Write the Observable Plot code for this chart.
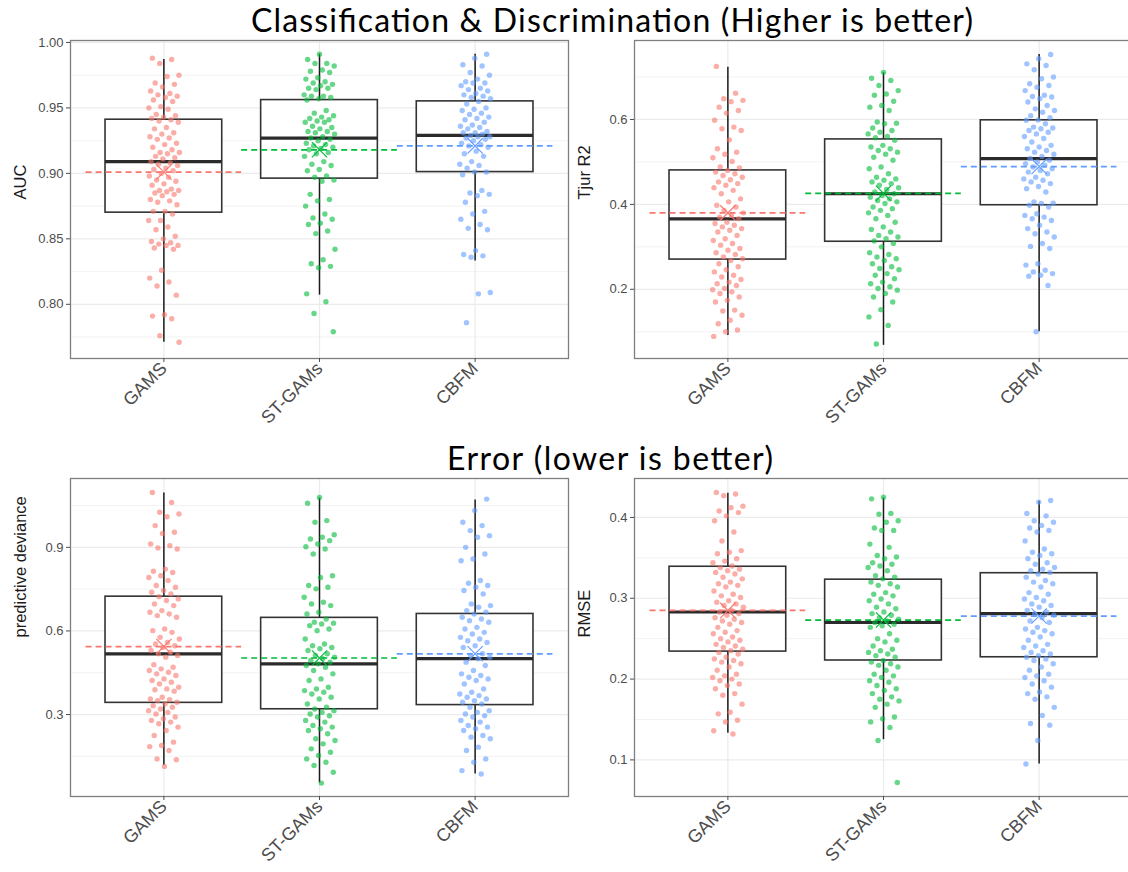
<!DOCTYPE html>
<html><head><meta charset="utf-8">
<script src="https://cdn.jsdelivr.net/npm/d3@7"></script>
<script src="https://cdn.jsdelivr.net/npm/@observablehq/plot@0.6"></script>
<style>
body{margin:0;background:#fff;width:1128px;height:872px;overflow:hidden;position:relative;font-family:"Liberation Sans",Arial,sans-serif;}
.panel{position:absolute;}
#titles{position:absolute;left:0;top:0;}
</style></head><body>
<div id="root"></div>
<script>
const models = ["GAMS", "ST-GAMs", "CBFM"];
const colors = ["#F8766D", "#00BA38", "#619CFF"];

// ---- AUC ----
const aucGAMS = [0.988,0.987,0.984,0.975,0.974,0.969,0.968,0.966,0.963,0.961,0.960,0.959,0.958,0.956,0.955,0.951,0.950,0.949,0.945,0.944,0.943,0.942,0.941,0.940,0.939,0.935,0.934,0.931,0.930,0.928,0.927,0.926,0.923,0.922,0.920,0.918,0.916,0.916,0.915,0.913,0.912,0.911,0.909,0.908,0.907,0.906,0.904,0.903,0.902,0.900,0.898,0.897,0.895,0.894,0.892,0.891,0.888,0.887,0.887,0.886,0.885,0.884,0.883,0.880,0.879,0.878,0.876,0.871,0.871,0.869,0.864,0.864,0.859,0.857,0.852,0.850,0.848,0.847,0.846,0.845,0.845,0.843,0.842,0.826,0.820,0.817,0.814,0.807,0.792,0.791,0.789,0.776,0.771];
const aucSTGAMs = [0.991,0.987,0.984,0.984,0.982,0.979,0.978,0.977,0.973,0.972,0.970,0.969,0.968,0.967,0.965,0.965,0.964,0.960,0.959,0.959,0.958,0.957,0.956,0.948,0.946,0.944,0.943,0.942,0.941,0.940,0.939,0.939,0.936,0.935,0.934,0.932,0.932,0.931,0.930,0.928,0.927,0.926,0.925,0.923,0.922,0.921,0.920,0.919,0.918,0.916,0.915,0.913,0.909,0.907,0.906,0.903,0.902,0.898,0.897,0.895,0.894,0.884,0.880,0.879,0.875,0.869,0.866,0.865,0.862,0.861,0.856,0.854,0.842,0.834,0.831,0.829,0.828,0.808,0.802,0.793,0.779];
const aucCBFM = [0.991,0.988,0.983,0.982,0.977,0.975,0.972,0.970,0.969,0.969,0.967,0.965,0.964,0.963,0.961,0.960,0.959,0.958,0.957,0.955,0.953,0.950,0.949,0.948,0.946,0.945,0.943,0.942,0.941,0.939,0.937,0.936,0.935,0.934,0.932,0.931,0.931,0.930,0.929,0.928,0.928,0.927,0.926,0.925,0.923,0.922,0.921,0.920,0.917,0.915,0.913,0.909,0.907,0.906,0.904,0.901,0.901,0.899,0.887,0.885,0.884,0.883,0.878,0.871,0.869,0.865,0.861,0.858,0.857,0.841,0.838,0.837,0.836,0.809,0.808,0.786];
const aucQ1 = [0.870, 0.896, 0.901];
const aucMedian = [0.909, 0.927, 0.929];
const aucQ3 = [0.941, 0.956, 0.955];
const aucLow = [0.771, 0.807, 0.833];
const aucHigh = [0.987, 0.991, 0.991];
const aucMean = [0.901, 0.918, 0.921];
const aucTicks = [0.80, 0.85, 0.90, 0.95, 1.00];
const aucMinor = [0.775, 0.825, 0.875, 0.925, 0.975];

// ---- Tjur R2 ----
const tjurGAMS = [0.725,0.662,0.649,0.645,0.642,0.629,0.621,0.615,0.598,0.582,0.578,0.574,0.552,0.531,0.523,0.518,0.510,0.501,0.488,0.486,0.480,0.476,0.472,0.468,0.464,0.458,0.453,0.449,0.445,0.439,0.433,0.425,0.413,0.406,0.398,0.394,0.386,0.380,0.374,0.370,0.366,0.358,0.355,0.351,0.347,0.343,0.339,0.335,0.327,0.319,0.315,0.308,0.304,0.296,0.292,0.286,0.282,0.276,0.272,0.268,0.260,0.253,0.246,0.241,0.233,0.229,0.223,0.217,0.213,0.209,0.202,0.199,0.194,0.190,0.182,0.174,0.170,0.151,0.149,0.139,0.127,0.119,0.104,0.100,0.089];
const tjurSTGAMs = [0.711,0.697,0.692,0.680,0.668,0.660,0.657,0.643,0.633,0.629,0.621,0.594,0.591,0.590,0.580,0.574,0.570,0.566,0.560,0.557,0.551,0.539,0.535,0.531,0.527,0.523,0.518,0.511,0.504,0.488,0.484,0.472,0.464,0.460,0.457,0.453,0.449,0.445,0.439,0.435,0.429,0.425,0.421,0.417,0.413,0.409,0.406,0.402,0.394,0.390,0.386,0.380,0.374,0.366,0.358,0.347,0.341,0.335,0.327,0.323,0.319,0.314,0.308,0.300,0.286,0.282,0.276,0.272,0.268,0.260,0.253,0.249,0.246,0.237,0.233,0.225,0.217,0.213,0.206,0.202,0.198,0.190,0.182,0.170,0.152,0.135,0.115,0.071];
const tjurCBFM = [0.753,0.743,0.731,0.727,0.717,0.700,0.696,0.684,0.680,0.676,0.668,0.657,0.654,0.653,0.649,0.641,0.633,0.625,0.621,0.617,0.609,0.604,0.599,0.598,0.590,0.582,0.580,0.578,0.574,0.570,0.566,0.560,0.555,0.547,0.539,0.535,0.531,0.527,0.523,0.518,0.513,0.508,0.504,0.500,0.496,0.492,0.488,0.484,0.480,0.476,0.472,0.464,0.460,0.457,0.453,0.449,0.442,0.437,0.429,0.406,0.403,0.402,0.398,0.394,0.378,0.374,0.370,0.366,0.362,0.351,0.343,0.335,0.331,0.323,0.308,0.301,0.296,0.260,0.257,0.245,0.241,0.237,0.233,0.231,0.209,0.100];
const tjurQ1 = [0.270, 0.312, 0.398];
const tjurMedian = [0.366, 0.425, 0.508];
const tjurQ3 = [0.480, 0.553, 0.598];
const tjurLow = [0.091, 0.068, 0.100];
const tjurHigh = [0.723, 0.710, 0.753];
const tjurMean = [0.380, 0.426, 0.489];
const tjurTicks = [0.2, 0.4, 0.6];
const tjurMinor = [0.1, 0.3, 0.5, 0.7];

// ---- predictive deviance ----
const devGAMS = [1.097,1.061,1.026,1.020,1.010,0.978,0.954,0.950,0.912,0.906,0.898,0.894,0.822,0.814,0.810,0.798,0.792,0.781,0.763,0.757,0.745,0.739,0.733,0.723,0.715,0.709,0.697,0.691,0.673,0.667,0.661,0.655,0.649,0.607,0.601,0.595,0.577,0.571,0.559,0.553,0.547,0.541,0.530,0.524,0.518,0.512,0.506,0.479,0.470,0.464,0.458,0.452,0.446,0.440,0.428,0.422,0.416,0.410,0.398,0.392,0.389,0.384,0.362,0.356,0.353,0.350,0.344,0.338,0.332,0.326,0.320,0.314,0.308,0.302,0.291,0.285,0.279,0.273,0.267,0.255,0.243,0.225,0.201,0.189,0.185,0.171,0.141,0.138,0.114];
const devSTGAMs = [1.079,1.058,0.996,0.990,0.945,0.936,0.930,0.924,0.912,0.902,0.894,0.876,0.798,0.792,0.763,0.757,0.751,0.721,0.703,0.697,0.691,0.667,0.661,0.643,0.631,0.628,0.625,0.619,0.607,0.601,0.571,0.553,0.547,0.541,0.536,0.530,0.518,0.512,0.506,0.500,0.494,0.488,0.482,0.476,0.470,0.458,0.446,0.428,0.422,0.398,0.392,0.386,0.380,0.374,0.362,0.356,0.338,0.326,0.320,0.314,0.308,0.302,0.296,0.291,0.279,0.273,0.261,0.255,0.249,0.243,0.231,0.213,0.207,0.195,0.177,0.165,0.153,0.141,0.129,0.117,0.093,0.054];
const devCBFM = [1.073,1.032,0.990,0.978,0.960,0.942,0.936,0.900,0.876,0.858,0.852,0.781,0.771,0.763,0.757,0.745,0.733,0.697,0.691,0.685,0.673,0.667,0.661,0.649,0.643,0.637,0.631,0.613,0.607,0.595,0.589,0.577,0.571,0.565,0.559,0.547,0.541,0.518,0.512,0.506,0.500,0.488,0.476,0.458,0.446,0.440,0.434,0.428,0.422,0.410,0.392,0.380,0.374,0.368,0.362,0.356,0.350,0.344,0.338,0.326,0.314,0.308,0.302,0.296,0.291,0.279,0.273,0.261,0.255,0.249,0.243,0.225,0.219,0.213,0.183,0.171,0.141,0.129,0.099,0.087];
const devQ1 = [0.342, 0.319, 0.334];
const devMedian = [0.518, 0.482, 0.501];
const devQ3 = [0.723, 0.647, 0.661];
const devLow = [0.117, 0.055, 0.087];
const devHigh = [1.095, 1.076, 1.070];
const devMean = [0.544, 0.503, 0.518];
const devTicks = [0.3, 0.6, 0.9];
const devMinor = [0.15, 0.45, 0.75, 1.05];

// ---- RMSE ----
const rmseGAMS = [0.431,0.429,0.427,0.414,0.412,0.408,0.406,0.402,0.396,0.382,0.371,0.359,0.357,0.355,0.349,0.346,0.344,0.340,0.338,0.336,0.334,0.332,0.330,0.326,0.324,0.320,0.318,0.316,0.314,0.309,0.305,0.303,0.301,0.297,0.295,0.293,0.291,0.289,0.285,0.283,0.281,0.279,0.276,0.274,0.272,0.270,0.268,0.264,0.260,0.258,0.256,0.252,0.250,0.248,0.246,0.243,0.241,0.239,0.237,0.235,0.233,0.231,0.227,0.225,0.223,0.221,0.219,0.215,0.211,0.206,0.204,0.202,0.200,0.198,0.194,0.192,0.188,0.182,0.180,0.169,0.159,0.157,0.149,0.147,0.136,0.132];
const rmseSTGAMs = [0.425,0.423,0.405,0.404,0.396,0.394,0.387,0.384,0.384,0.367,0.363,0.353,0.351,0.349,0.344,0.342,0.340,0.338,0.334,0.328,0.326,0.324,0.320,0.318,0.316,0.314,0.307,0.305,0.303,0.299,0.297,0.293,0.289,0.287,0.283,0.281,0.279,0.276,0.274,0.272,0.270,0.268,0.266,0.264,0.256,0.250,0.248,0.246,0.241,0.237,0.235,0.233,0.231,0.229,0.227,0.223,0.221,0.219,0.217,0.215,0.211,0.206,0.204,0.202,0.198,0.196,0.192,0.188,0.186,0.182,0.178,0.175,0.173,0.169,0.165,0.153,0.151,0.147,0.140,0.124,0.072];
const rmseCBFM = [0.421,0.419,0.405,0.402,0.396,0.394,0.390,0.387,0.384,0.382,0.371,0.361,0.357,0.355,0.353,0.349,0.344,0.342,0.338,0.336,0.334,0.332,0.330,0.326,0.322,0.320,0.318,0.314,0.307,0.305,0.301,0.299,0.297,0.293,0.291,0.289,0.285,0.283,0.281,0.279,0.276,0.272,0.270,0.264,0.262,0.260,0.258,0.256,0.252,0.248,0.243,0.241,0.239,0.235,0.233,0.231,0.229,0.227,0.225,0.223,0.219,0.215,0.211,0.206,0.204,0.202,0.198,0.194,0.190,0.184,0.182,0.178,0.175,0.165,0.155,0.145,0.143,0.124,0.095];
const rmseQ1 = [0.234, 0.223, 0.227];
const rmseMedian = [0.283, 0.270, 0.281];
const rmseQ3 = [0.339, 0.323, 0.331];
const rmseLow = [0.133, 0.125, 0.095];
const rmseHigh = [0.430, 0.424, 0.420];
const rmseMean = [0.285, 0.273, 0.278];
const rmseTicks = [0.1, 0.2, 0.3, 0.4];
const rmseMinor = [0.15, 0.25, 0.35];

// deterministic horizontal jitter (layout only)
function jitter(k, g) {
  const u = (k * 0.6180339887 + g * 0.37 + 0.13) % 1;
  return (u - 0.5) * 0.2;
}

function panel(cfg) {
  const pts = [];
  cfg.series.forEach((vals, g) => vals.forEach((v, k) => pts.push({g, x: g + 1 + jitter(k, g), v})));
  const st = models.map((m, g) => ({
    g, x: g + 1, q1: cfg.q1[g], med: cfg.med[g], q3: cfg.q3[g],
    lo: cfg.lo[g], hi: cfg.hi[g], mean: cfg.mean[g]
  }));
  const col = d => colors[d.g];
  const plot = Plot.plot({
    width: cfg.width, height: cfg.height,
    marginTop: cfg.mt, marginBottom: cfg.mb, marginLeft: cfg.ml, marginRight: cfg.mr,
    style: {fontFamily: "'Liberation Sans', Arial, sans-serif", background: "transparent", overflow: "visible"},
    x: {type: "linear", domain: [0.4, 3.6], axis: null},
    y: {domain: cfg.domain, axis: null},
    color: {type: "identity"},
    marks: [
      Plot.gridY(cfg.minor, {stroke: "#ebebeb", strokeOpacity: 1, strokeWidth: 0.6}),
      Plot.gridY(cfg.ticks, {stroke: "#ebebeb", strokeOpacity: 1, strokeWidth: 1.2}),
      Plot.gridX([1, 2, 3], {stroke: "#ebebeb", strokeOpacity: 1, strokeWidth: 1.2}),
      Plot.ruleX(st, {x: "x", y1: "q3", y2: "hi", stroke: "#1a1a1a", strokeWidth: 1.5}),
      Plot.ruleX(st, {x: "x", y1: "lo", y2: "q1", stroke: "#1a1a1a", strokeWidth: 1.5}),
      Plot.rect(st, {x1: d => d.x - 0.375, x2: d => d.x + 0.375, y1: "q1", y2: "q3", fill: "white", stroke: "#333333", strokeWidth: 1.6}),
      Plot.ruleY(st, {y: "med", x1: d => d.x - 0.375, x2: d => d.x + 0.375, stroke: "#2b2b2b", strokeWidth: 3.2}),
      Plot.dot(pts, {x: "x", y: "v", r: 2.7, fill: col, fillOpacity: 0.6, stroke: null}),
      Plot.ruleY(st, {y: "mean", x1: d => d.x - 0.5, x2: d => d.x + 0.5, stroke: col, strokeWidth: 1.7, strokeDasharray: "6,4"}),
      Plot.dot(st, {x: "x", y: "mean", symbol: "times", r: 7, stroke: col, strokeWidth: 1.1}),
      Plot.frame({stroke: "#7f7f7f", strokeWidth: 1.3}),
      Plot.axisY(cfg.ticks, {tickFormat: cfg.fmt, fontSize: 13, tickSize: 4, tickPadding: 3, color: "#4d4d4d", label: null}),
      Plot.axisX([1, 2, 3], {tickFormat: d => models[d - 1], tickRotate: -45, fontSize: 18, tickSize: 4, tickPadding: 3, color: "#4d4d4d", label: null}),
      Plot.text([cfg.label], {frameAnchor: "left", rotate: -90, dx: -50, fontSize: 16.5, fill: "#1a1a1a"})
    ]
  });
  plot.classList.add("panel");
  plot.style.left = cfg.left + "px";
  plot.style.top = cfg.top + "px";
  plot.style.position = "absolute";
  return plot;
}

const root = document.getElementById("root");
root.appendChild(panel({
  series: [aucGAMS, aucSTGAMs, aucCBFM], q1: aucQ1, med: aucMedian, q3: aucQ3, lo: aucLow, hi: aucHigh, mean: aucMean,
  domain: [0.7586, 1.0015], ticks: aucTicks, minor: aucMinor, fmt: d3.format(".2f"), label: "AUC",
  left: 0, top: 30, width: 570, height: 400, mt: 10, mb: 72, ml: 70, mr: 2
}));
root.appendChild(panel({
  series: [tjurGAMS, tjurSTGAMs, tjurCBFM], q1: tjurQ1, med: tjurMedian, q3: tjurQ3, lo: tjurLow, hi: tjurHigh, mean: tjurMean,
  domain: [0.037, 0.786], ticks: tjurTicks, minor: tjurMinor, fmt: d3.format(".1f"), label: "Tjur R2",
  left: 570, top: 30, width: 564, height: 400, mt: 10, mb: 72, ml: 64, mr: 2
}));
root.appendChild(panel({
  series: [devGAMS, devSTGAMs, devCBFM], q1: devQ1, med: devMedian, q3: devQ3, lo: devLow, hi: devHigh, mean: devMean,
  domain: [0.006, 1.147], ticks: devTicks, minor: devMinor, fmt: d3.format(".1f"), label: "predictive deviance",
  left: 0, top: 440, width: 570, height: 432, mt: 38, mb: 76, ml: 70, mr: 2
}));
root.appendChild(panel({
  series: [rmseGAMS, rmseSTGAMs, rmseCBFM], q1: rmseQ1, med: rmseMedian, q3: rmseQ3, lo: rmseLow, hi: rmseHigh, mean: rmseMean,
  domain: [0.0547, 0.4482], ticks: rmseTicks, minor: rmseMinor, fmt: d3.format(".1f"), label: "RMSE",
  left: 570, top: 440, width: 564, height: 432, mt: 38, mb: 76, ml: 64, mr: 2
}));

// section titles
const svg = d3.select("body").append("svg").attr("id", "titles").attr("width", 1128).attr("height", 872)
  .style("pointer-events", "none");
svg.append("text").attr("x", 612).attr("y", 32).attr("text-anchor", "middle")
  .attr("textLength", 722).attr("lengthAdjust", "spacing")
  .style("font-family", "Lato, 'Open Sans', sans-serif").style("font-size", "32px").attr("fill", "#000")
  .text("Classification & Discrimination (Higher is better)");
svg.append("text").attr("x", 610).attr("y", 470).attr("text-anchor", "middle")
  .attr("textLength", 326).attr("lengthAdjust", "spacing")
  .style("font-family", "Lato, 'Open Sans', sans-serif").style("font-size", "32px").attr("fill", "#000")
  .text("Error (lower is better)");
</script>
</body></html>
